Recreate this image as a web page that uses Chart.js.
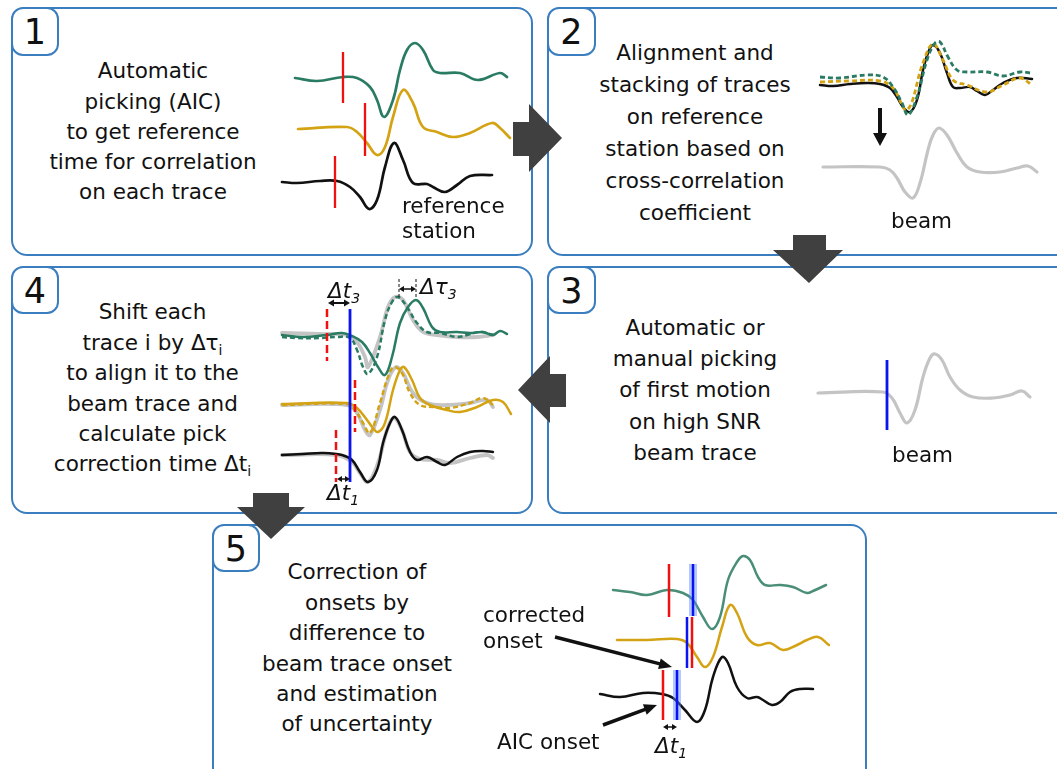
<!DOCTYPE html>
<html><head><meta charset="utf-8">
<script src="https://cdn.jsdelivr.net/npm/chart.js@4"></script>
<style>
html,body{margin:0;padding:0;background:#fff;}
body{width:1057px;height:769px;overflow:hidden;position:relative;font-family:"DejaVu Sans",Verdana,sans-serif;color:#111;}
.box{position:absolute;border:2.6px solid #3b7ebf;border-radius:16px;box-sizing:border-box;}
.badge{position:absolute;border:2.6px solid #3b7ebf;border-radius:12px;box-sizing:border-box;background:#fff;font-size:35px;text-align:center;line-height:46px;}
.txt{position:absolute;font-size:21.5px;text-align:center;white-space:nowrap;transform:translateX(-50%);}
.lbl{position:absolute;font-size:21.5px;line-height:25px;white-space:nowrap;}
.it{font-style:italic;}
.sb{font-size:14px;vertical-align:-5px;line-height:0;}
.arrow{position:absolute;background:#404040;}
.chart{position:absolute;}
</style></head>
<body>
<!-- boxes -->
<div class="box" style="left:10.7px;top:6.7px;width:522.6px;height:249.6px"></div>
<div class="box" style="left:546.7px;top:6.7px;width:540px;height:249.6px"></div>
<div class="box" style="left:10.7px;top:265.7px;width:522.6px;height:248.6px"></div>
<div class="box" style="left:546.7px;top:265.7px;width:540px;height:248.6px"></div>
<div class="box" style="left:211.7px;top:523.7px;width:655.6px;height:280px"></div>
<div class="badge" style="left:10.7px;top:6.7px;width:48.6px;height:49.6px">1</div>
<div class="badge" style="left:546.7px;top:6.7px;width:49.6px;height:49.6px">2</div>
<div class="badge" style="left:10.7px;top:265.7px;width:48.6px;height:48.6px">4</div>
<div class="badge" style="left:546.7px;top:265.7px;width:49.6px;height:48.6px">3</div>
<div class="badge" style="left:211.7px;top:523.7px;width:48.6px;height:48.6px">5</div>

<!-- charts -->
<div class="chart" style="left:270px;top:20px;width:250px;height:230px"><canvas id="c1"></canvas></div>
<div class="chart" style="left:800px;top:20px;width:257px;height:220px"><canvas id="c2"></canvas></div>
<div class="chart" style="left:270px;top:270px;width:260px;height:240px"><canvas id="c4"></canvas></div>
<div class="chart" style="left:800px;top:330px;width:257px;height:150px"><canvas id="c3"></canvas></div>
<div class="chart" style="left:470px;top:540px;width:390px;height:229px"><canvas id="c5"></canvas></div>

<!-- box texts -->
<div class="txt" style="left:153px;top:56.4px;line-height:30.25px">Automatic<br>picking (AIC)<br>to get reference<br>time for correlation<br>on each trace</div>
<div class="txt" style="left:695px;top:36.5px;line-height:32px">Alignment and<br>stacking of traces<br>on reference<br>station based on<br>cross-correlation<br>coefficient</div>
<div class="txt" style="left:152.5px;top:297.3px;line-height:30.4px">Shift each<br>trace i by Δτ<span class="sb">i</span><br>to align it to the<br>beam trace and<br>calculate pick<br>correction time Δt<span class="sb">i</span></div>
<div class="txt" style="left:695px;top:311.8px;line-height:31.3px">Automatic or<br>manual picking<br>of first motion<br>on high SNR<br>beam trace</div>
<div class="txt" style="left:357px;top:557.3px;line-height:30.4px">Correction of<br>onsets by<br>difference to<br>beam trace onset<br>and estimation<br>of uncertainty</div>

<!-- labels -->
<div class="lbl" style="left:402px;top:193px">reference</div>
<div class="lbl" style="left:402px;top:218px">station</div>
<div class="lbl" style="left:891px;top:208px">beam</div>
<div class="lbl" style="left:892px;top:442px">beam</div>
<div class="lbl it" style="left:328px;top:278px">Δt<span class="sb">3</span></div>
<div class="lbl it" style="left:420px;top:274px">Δτ<span class="sb">3</span></div>
<div class="lbl it" style="left:327px;top:480px">Δt<span class="sb">1</span></div>
<div class="lbl" style="left:483px;top:602px">corrected</div>
<div class="lbl" style="left:483px;top:628px">onset</div>
<div class="lbl" style="left:497px;top:729px">AIC onset</div>
<div class="lbl it" style="left:655px;top:733px">Δt<span class="sb">1</span></div>

<!-- block arrows -->
<div class="arrow" style="left:513px;top:104px;width:49px;height:68px;clip-path:polygon(0px 18px,16px 18px,16px 0px,49px 34px,16px 68px,16px 52px,0px 52px)"></div>
<div class="arrow" style="left:773px;top:235px;width:70px;height:48px;clip-path:polygon(20px 0px,53px 0px,53px 15px,70px 15px,36px 48px,0px 15px,20px 15px)"></div>
<div class="arrow" style="left:518px;top:356px;width:48px;height:67px;clip-path:polygon(48px 18px,32px 18px,32px 0px,0px 34px,32px 67px,32px 51px,48px 51px)"></div>
<div class="arrow" style="left:237px;top:493px;width:68px;height:46px;clip-path:polygon(16px 0px,52px 0px,52px 14px,68px 14px,34px 46px,0px 14px,16px 14px)"></div>

<script>
// ---------- DATA (time, amplitude-on-display) ----------
// Panel 1: raw traces with AIC picks
const p1Green  = [[25,58],[47,61],[73,57],[87,58],[100,67],[107,80],[114,97],[123,80],[130,50],[137,30],[145,23],[153,30],[163,50],[170,53],[190,53],[208,60],[230,53],[237,57]];
const p1Yellow = [[28,109],[77,107],[87,112],[97,123],[107,135],[115,127],[123,97],[133,70],[143,83],[153,107],[167,112],[183,117],[200,113],[222,103],[230,108],[240,118]];
const p1Black  = [[12,162],[27,163],[50,161],[67,161],[80,167],[90,177],[99,189],[107,180],[115,147],[124,123],[133,140],[143,163],[157,164],[163,167],[175,172],[187,165],[200,156],[222,155]];
const p1Picks  = [[73,32,83],[95,83,136],[65,136,188]];   // [time, top, bottom]

// Panel 2: stacked traces and beam
const p2Black  = [[20,65],[33,66],[50,64],[67,63],[80,64],[90,68],[97,77],[103,87],[110,92],[117,80],[123,50],[128,33],[133,25],[140,33],[147,53],[153,67],[160,68],[170,67],[177,71],[185,75],[193,70],[203,63],[217,58],[232,59]];
const p2Yellow = [[20,62],[50,61],[80,61],[93,68],[107,90],[123,43],[133,24],[143,40],[153,60],[167,65],[187,72],[203,65],[220,58],[232,65]];
const p2Green  = [[20,57],[40,58],[67,55],[83,57],[93,67],[102,83],[108,95],[117,77],[127,40],[135,23],[140,22],[148,37],[157,50],[167,52],[187,52],[203,56],[220,52],[230,53]];
const p2Beam   = [[23,147],[80,147],[90,150],[97,158],[105,172],[113,178],[120,163],[128,130],[133,115],[139,108],[147,115],[157,133],[167,147],[180,152],[200,152],[217,148],[228,146],[237,152]];
const p2Down   = [[80,88],[80,126]];

// Panel 3: beam with first-motion pick
const p3Beam   = [[18,63],[83,62],[92,68],[100,83],[107,93],[115,80],[123,47],[130,28],[135,24],[142,30],[150,47],[160,60],[173,67],[193,68],[210,65],[222,61],[230,67]];
const p3Pick   = [87,30,100];

// Panel 4: shifted traces against beam
const p4BeamG  = [[12,63],[50,64],[77,65],[87,72],[95,87],[98,97],[110,67],[118,37],[125,27],[133,30],[143,50],[153,62],[167,65],[187,67],[207,67],[223,65]];
const p4BeamY  = [[12,135],[77,135],[87,143],[95,160],[100,165],[110,140],[118,110],[126,97],[133,103],[143,123],[157,133],[177,135],[200,133],[217,130],[223,137]];
const p4BeamK  = [[12,185],[67,185],[82,192],[90,203],[98,212],[108,193],[117,160],[124,148],[132,160],[140,182],[150,189],[167,190],[180,193],[200,188],[217,185],[223,188]];
const p4GreenD = [[12,67],[27,68],[50,68],[67,67],[80,68],[87,80],[93,97],[98,104],[107,87],[115,50],[122,32],[128,27],[137,37],[147,53],[157,62],[170,63],[187,67],[197,65],[210,62],[223,65]];
const p4Green  = [[12,65],[33,67],[57,65],[72,63],[82,66],[92,72],[100,83],[108,97],[115,105],[122,87],[130,53],[138,37],[146,30],[153,38],[162,57],[170,62],[187,62],[200,63],[213,62],[223,65],[230,61],[237,64]];
const p4YellowD= [[12,135],[77,134],[85,140],[93,153],[100,163],[110,133],[118,107],[124,97],[132,103],[140,123],[150,135],[163,137],[180,138],[200,133],[213,128],[223,135]];
const p4Yellow = [[12,134],[77,133],[87,138],[97,150],[103,158],[108,162],[115,153],[123,120],[130,100],[134,97],[142,110],[150,128],[160,135],[177,140],[190,142],[207,137],[223,130],[233,132],[241,144]];
const p4Black  = [[12,185],[33,184],[53,183],[72,185],[82,190],[90,202],[98,212],[107,200],[113,173],[120,153],[125,147],[132,160],[140,182],[147,190],[157,187],[167,192],[175,195],[187,187],[200,182],[213,181],[223,182]];
const p4Beam   = [80,39,212];
const p4Picks  = [[57,39,91],[85,110,162],[66,160,212]];
const p4TauLines = [[129,9,28],[146,9,28]];
const p4Dt3    = [[58,33],[80,33]];
const p4Tau3   = [[129,19],[146,19]];
const p4Dt1    = [[67,209],[80,209]];

// Panel 5: corrected onsets
const p5Green  = [[143,50],[160,52],[177,55],[197,50],[213,53],[223,60],[233,77],[242,89],[250,77],[258,40],[267,22],[273,16],[280,20],[288,37],[295,45],[310,45],[323,47],[337,53],[343,51],[356,45]];
const p5Yellow = [[147,100],[177,100],[207,99],[217,103],[227,117],[235,127],[243,117],[252,87],[260,65],[267,73],[277,97],[287,105],[300,103],[313,110],[327,105],[337,100],[348,97],[359,105]];
const p5Black  = [[130,154],[150,157],[173,153],[192,154],[203,158],[215,170],[227,182],[235,170],[243,137],[252,117],[258,123],[267,147],[277,158],[287,157],[293,160],[302,165],[310,162],[320,152],[330,149],[343,149]];
const p5AIC    = [[199,24,77],[222,77,128],[193,130,180]];
const p5Beam   = [[223,24,76],[217,77,128],[207,130,180]];
const p5ArrowCorr = [[85,97],[202,127]];
const p5ArrowAIC  = [[133,185],[187,165]];
const p5Dt1    = [[193,187],[207,187]];

// ---------- helpers ----------
const GREEN = '#2a7b63', GREEN5 = '#4a8e78', YELLOW = '#d4a314', BLACK = '#111', RED = '#f01010', BLUE = '#0a14f0', GREY = '#c4c4c4';
const pts = a => a.map(p => ({x: p[0], y: p[1]}));
const vpts = v => [{x: v[0], y: v[1]}, {x: v[0], y: v[2]}];
function curve(a, color, w, extra) {
  return Object.assign({data: pts(a), borderColor: color, borderWidth: w, pointRadius: 0, tension: 0.4,
    fill: false, clip: false, borderCapStyle: 'round', borderJoinStyle: 'round'}, extra || {});
}
function vline(v, color, w, extra) {
  return Object.assign({data: vpts(v), borderColor: color, borderWidth: w, pointRadius: 0, tension: 0,
    fill: false, clip: false, borderCapStyle: 'butt'}, extra || {});
}
function arrow(a, color, lw, len, wid, both) {
  return {data: pts(a), borderColor: color, showLine: false, pointRadius: 0, clip: false,
    arrowHead: {lw: lw, len: len, wid: wid, both: !!both}};
}
const arrowPlugin = {
  id: 'arrowHeads',
  afterDatasetsDraw(chart) {
    const ctx = chart.ctx;
    chart.data.datasets.forEach((d, i) => {
      if (!d.arrowHead) return;
      const el = chart.getDatasetMeta(i).data;
      const a = el[0], b = el[el.length - 1];
      const h = d.arrowHead;
      const ang = Math.atan2(b.y - a.y, b.x - a.x);
      const dx = Math.cos(ang), dy = Math.sin(ang);
      let sx = a.x, sy = a.y, ex = b.x - dx * h.len * 0.8, ey = b.y - dy * h.len * 0.8;
      if (h.both) { sx = a.x + dx * h.len * 0.8; sy = a.y + dy * h.len * 0.8; }
      ctx.save();
      ctx.strokeStyle = d.borderColor; ctx.fillStyle = d.borderColor; ctx.lineWidth = h.lw;
      ctx.beginPath(); ctx.moveTo(sx, sy); ctx.lineTo(ex, ey); ctx.stroke();
      const head = (tx, ty, an) => {
        ctx.save(); ctx.translate(tx, ty); ctx.rotate(an);
        ctx.beginPath(); ctx.moveTo(0, 0); ctx.lineTo(-h.len, h.wid / 2); ctx.lineTo(-h.len, -h.wid / 2); ctx.closePath(); ctx.fill();
        ctx.restore();
      };
      head(b.x, b.y, ang);
      if (h.both) head(a.x, a.y, ang + Math.PI);
      ctx.restore();
    });
  }
};
function makeChart(id, w, h, datasets) {
  // later entries should be painted on top: Chart.js paints index 0 last, so reverse
  return new Chart(document.getElementById(id), {
    type: 'line',
    data: {datasets: datasets.slice().reverse()},
    options: {
      responsive: true, maintainAspectRatio: false, animation: false, events: [],
      layout: {padding: 0},
      plugins: {legend: {display: false}, tooltip: {enabled: false}},
      scales: {
        x: {type: 'linear', min: 0, max: w, display: false},
        y: {type: 'linear', min: 0, max: h, reverse: true, display: false}
      }
    },
    plugins: [arrowPlugin]
  });
}

// Panel 1
makeChart('c1', 250, 230, [
  curve(p1Green, GREEN, 2.7), curve(p1Yellow, YELLOW, 2.7), curve(p1Black, BLACK, 2.7),
  ...p1Picks.map(v => vline(v, RED, 2.3))
]);
// Panel 2
makeChart('c2', 257, 220, [
  curve(p2Black, BLACK, 2.5),
  curve(p2Yellow, YELLOW, 2.8, {borderDash: [5, 3], borderCapStyle: 'butt'}),
  curve(p2Green, GREEN, 2.8, {borderDash: [5, 3], borderCapStyle: 'butt'}),
  curve(p2Beam, GREY, 3.2),
  arrow(p2Down, BLACK, 4, 13, 14)
]);
// Panel 3
makeChart('c3', 257, 150, [
  curve(p3Beam, GREY, 3.2),
  vline(p3Pick, BLUE, 2.8)
]);
// Panel 4
makeChart('c4', 260, 240, [
  curve(p4BeamG, GREY, 3.8), curve(p4BeamY, GREY, 3.8), curve(p4BeamK, GREY, 3.8),
  curve(p4GreenD, GREEN, 2.5, {borderDash: [5, 3], borderCapStyle: 'butt'}),
  curve(p4YellowD, YELLOW, 2.5, {borderDash: [5, 3], borderCapStyle: 'butt'}),
  curve(p4Green, GREEN, 2.5), curve(p4Yellow, YELLOW, 2.5), curve(p4Black, BLACK, 2.5),
  ...p4Picks.map(v => vline(v, RED, 2.5, {borderDash: [8, 4]})),
  vline(p4Beam, BLUE, 2.8),
  ...p4TauLines.map(v => vline(v, BLACK, 1, {borderDash: [3, 2]})),
  arrow(p4Dt3, BLACK, 2, 6, 7, true),
  arrow(p4Tau3, BLACK, 1.5, 5, 6, true),
  arrow(p4Dt1, BLACK, 1.5, 5, 6, true)
]);
// Panel 5
makeChart('c5', 390, 229, [
  curve(p5Green, GREEN5, 2.5), curve(p5Yellow, YELLOW, 2.5), curve(p5Black, BLACK, 2.5),
  vline(p5Beam[0], 'rgba(90,130,255,0.45)', 8), vline(p5Beam[2], 'rgba(90,130,255,0.45)', 8),
  ...p5AIC.map(v => vline(v, RED, 2.5)),
  ...p5Beam.map(v => vline(v, BLUE, 2.5)),
  arrow(p5ArrowCorr, BLACK, 3.5, 13, 11),
  arrow(p5ArrowAIC, BLACK, 3.5, 13, 11),
  arrow(p5Dt1, BLACK, 1.5, 5, 6, true)
]);
</script>
</body></html>
